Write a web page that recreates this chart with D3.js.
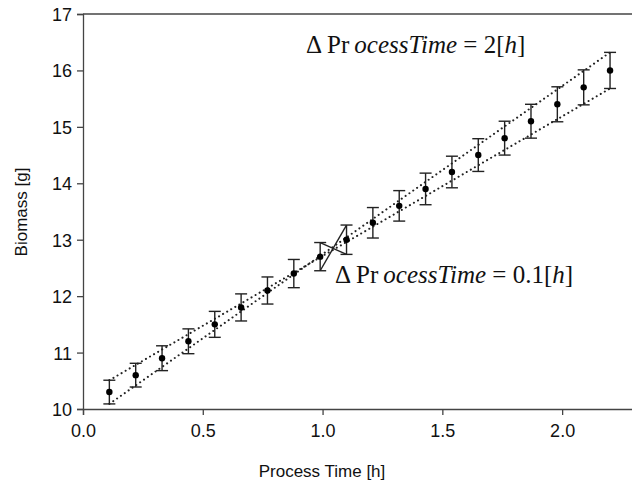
<!DOCTYPE html>
<html>
<head>
<meta charset="utf-8">
<script src="https://cdn.jsdelivr.net/npm/d3@7"></script>
<style>
  body { margin: 0; background: #fff; }
  svg { display: block; }
  .sans { font-family: "Liberation Sans", Arial, sans-serif; }
  .serif { font-family: "Liberation Serif", "Times New Roman", serif; }
</style>
</head>
<body>
<div id="chart"></div>
<script>
// values
const processTime = [0.11, 0.22, 0.33, 0.44, 0.55, 0.66, 0.77, 0.88, 0.99, 1.10,
                     1.21, 1.32, 1.43, 1.54, 1.65, 1.76, 1.87, 1.98, 2.09, 2.20];
const biomass = [10.3, 10.6, 10.9, 11.2, 11.5, 11.8, 12.1, 12.4, 12.7, 13.0,
                 13.3, 13.6, 13.9, 14.2, 14.5, 14.8, 15.1, 15.4, 15.7, 16.0];
const biomassErr = [0.21, 0.21, 0.22, 0.22, 0.23, 0.24, 0.24, 0.25, 0.25, 0.26,
                    0.27, 0.27, 0.28, 0.28, 0.29, 0.30, 0.30, 0.31, 0.31, 0.32];
const xTicks = [0, 0.5, 1.0, 1.5, 2.0];
const yTicks = [10, 11, 12, 13, 14, 15, 16, 17];

const W = 632, H = 489;
const INK = "#222";

const svg = d3.select("#chart").append("svg")
  .attr("width", W).attr("height", H);

const x = d3.scaleLinear().domain([0, 2.3]).range([83, 634]);
const y = d3.scaleLinear().domain([10, 17]).range([409, 14]);

const pts = processTime.map((t, i) => ({ t, b: biomass[i], e: biomassErr[i] }));
const first = pts[0], last = pts[pts.length - 1];

// crossing dotted envelope lines
const envelope = [
  [[first.t, first.b + first.e], [last.t, last.b - last.e]],
  [[first.t, first.b - first.e], [last.t, last.b + last.e]]
];
svg.append("g").selectAll("line")
  .data(envelope)
  .join("line")
  .attr("x1", d => x(d[0][0])).attr("y1", d => y(d[0][1]))
  .attr("x2", d => x(d[1][0])).attr("y2", d => y(d[1][1]))
  .attr("stroke", INK)
  .attr("stroke-width", 2)
  .attr("stroke-linecap", "round")
  .attr("stroke-dasharray", "0.1,4.6");

// solid X between the 9th and 10th points
const a = pts[8], b = pts[9];
const cross = [
  [[a.t, a.b - a.e], [b.t, b.b + b.e]],
  [[a.t, a.b + a.e], [b.t, b.b - b.e]]
];
svg.append("g").selectAll("line")
  .data(cross)
  .join("line")
  .attr("x1", d => x(d[0][0])).attr("y1", d => y(d[0][1]))
  .attr("x2", d => x(d[1][0])).attr("y2", d => y(d[1][1]))
  .attr("stroke", INK)
  .attr("stroke-width", 1.4);

// error bars
const bars = svg.append("g").attr("stroke", INK).attr("stroke-width", 1.4);
bars.selectAll(".stem").data(pts).join("line")
  .attr("x1", d => x(d.t)).attr("x2", d => x(d.t))
  .attr("y1", d => y(d.b + d.e)).attr("y2", d => y(d.b - d.e));
bars.selectAll(".capTop").data(pts).join("line")
  .attr("x1", d => x(d.t) - 6).attr("x2", d => x(d.t) + 6)
  .attr("y1", d => y(d.b + d.e)).attr("y2", d => y(d.b + d.e));
bars.selectAll(".capBot").data(pts).join("line")
  .attr("x1", d => x(d.t) - 6).attr("x2", d => x(d.t) + 6)
  .attr("y1", d => y(d.b - d.e)).attr("y2", d => y(d.b - d.e));

svg.append("g").selectAll("circle").data(pts).join("circle")
  .attr("cx", d => x(d.t)).attr("cy", d => y(d.b))
  .attr("r", 3.2).attr("fill", "#000");

// axes
const xAxis = svg.append("g")
  .attr("transform", `translate(0,${y(10)})`)
  .call(d3.axisBottom(x).tickValues(xTicks).tickSize(6).tickPadding(9).tickFormat(d3.format(".1f")));
const yAxis = svg.append("g")
  .attr("transform", `translate(${x(0)},0)`)
  .call(d3.axisLeft(y).tickValues(yTicks).tickSize(6).tickPadding(5).tickFormat(d3.format("d")));

[xAxis, yAxis].forEach(g => {
  g.attr("font-family", null).attr("font-size", null).attr("class", "sans");
  g.select(".domain").attr("stroke", "#444").attr("stroke-width", 1.3);
  g.selectAll(".tick line").attr("stroke", "#444").attr("stroke-width", 1.3);
  g.selectAll(".tick text")
    .attr("fill", "#111")
    .style("font-size", "18px");
});
yAxis.selectAll(".tick text").attr("dy", "0.36em");

// top frame line
svg.append("line")
  .attr("x1", x(0)).attr("x2", W)
  .attr("y1", y(17)).attr("y2", y(17))
  .attr("stroke", "#444").attr("stroke-width", 1.3);

// axis titles
svg.append("text")
  .attr("class", "sans")
  .attr("x", 322).attr("y", 477)
  .attr("text-anchor", "middle")
  .style("font-size", "17px")
  .attr("fill", "#111")
  .text("Process Time [h]");

svg.append("text")
  .attr("class", "sans")
  .attr("transform", `translate(27,212) rotate(-90)`)
  .attr("text-anchor", "middle")
  .style("font-size", "17px")
  .attr("fill", "#111")
  .text("Biomass [g]");

// annotations
function annotate(px, py, value) {
  const t = svg.append("text")
    .attr("class", "serif")
    .attr("x", px).attr("y", py)
    .style("font-size", "25px")
    .attr("fill", "#111");
  t.append("tspan").text("\u0394\u2009Pr");
  t.append("tspan").style("font-style", "italic").text("\u2009ocessTime");
  t.append("tspan").text(" = " + value + "[");
  t.append("tspan").style("font-style", "italic").text("h");
  t.append("tspan").text("]");
}
annotate(306, 53, "2");
annotate(335, 283, "0.1");
</script>
</body>
</html>
